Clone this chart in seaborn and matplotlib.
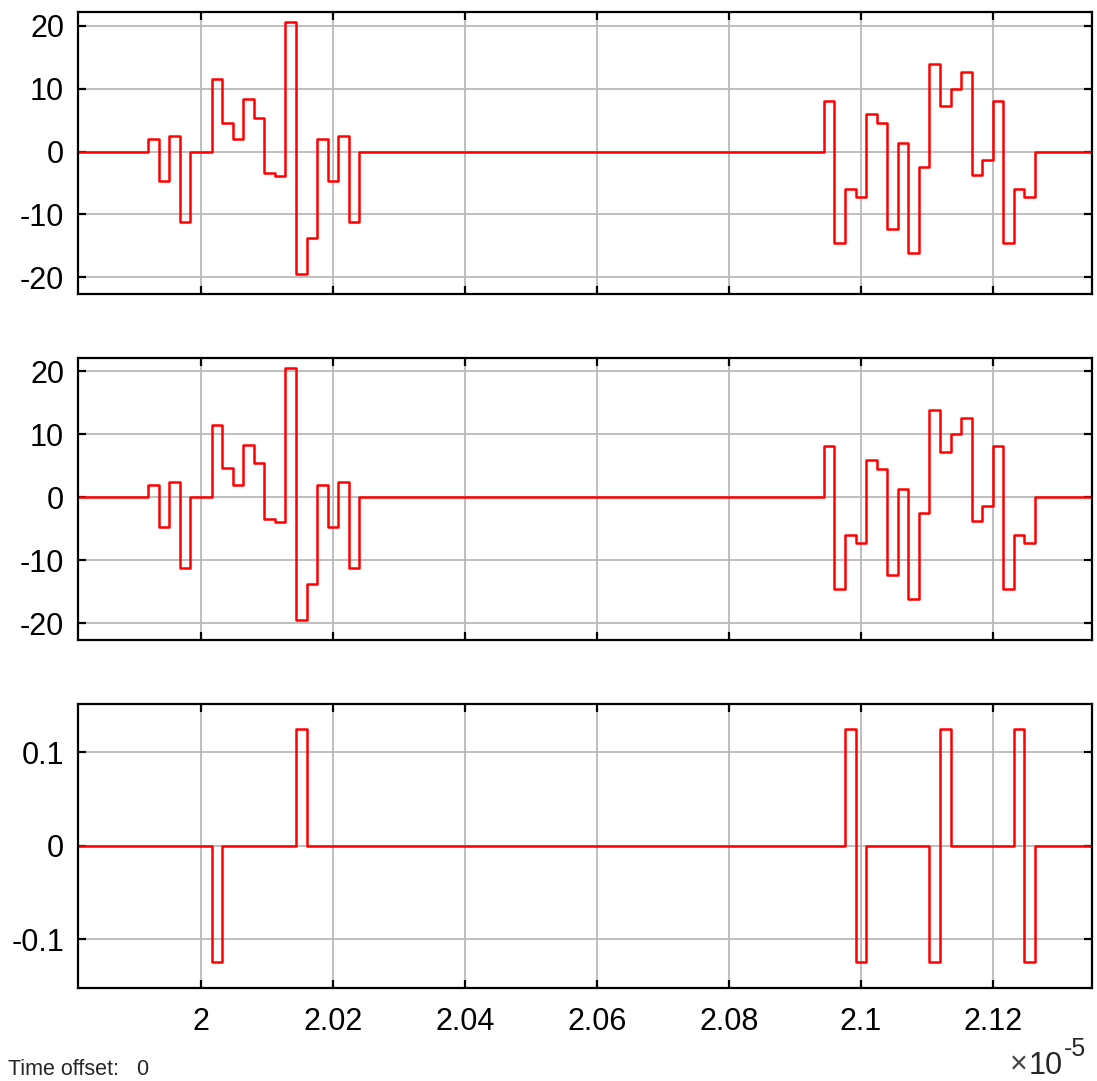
import numpy as np
import pandas as pd
import matplotlib
matplotlib.use("Agg")
import matplotlib.pyplot as plt
import seaborn as sns

sns.set_style("ticks")
plt.rcParams["font.family"] = ["Liberation Sans", "DejaVu Sans"]

# Sampled signal: 16 ns sample period, time in units of 1e-5 s
sample_time = 0.0016
first_sample = 1.992          # time of sample index 0
index_range = (-8, 92)        # samples covering the displayed window

# Two bursts of 20 samples (same data on both upper scopes)
burst_a_start = 0
burst_a = [2.0, -4.75, 2.5, -11.2, 0.0, 0.0, 11.5, 4.6, 2.0, 8.3,
           5.4, -3.4, -3.85, 20.6, -19.4, -13.8, 2.0, -4.75, 2.5, -11.2]
burst_b_start = 64
burst_b = [8.1, -14.5, -6.0, -7.2, 6.0, 4.5, -12.3, 1.3, -16.1, -2.5,
           13.9, 7.2, 10.0, 12.6, -3.8, -1.3, 8.1, -14.5, -6.0, -7.2]

# Error-pulse channel
pulse_index = [6, 14, 66, 67, 74, 75, 82, 83]
pulse_value = [-0.125, 0.125, 0.125, -0.125, -0.125, 0.125, 0.125, -0.125]

x_limits = (1.98136, 2.1350)
x_ticks = [2.0, 2.02, 2.04, 2.06, 2.08, 2.10, 2.12]
x_tick_labels = ["2", "2.02", "2.04", "2.06", "2.08", "2.1", "2.12"]
y_ticks_top = [20, 10, 0, -10, -20]
y_tick_labels_top = ["20", "10", "0", "-10", "-20"]
y_ticks_bottom = [0.1, 0, -0.1]
y_tick_labels_bottom = ["0.1", "0", "-0.1"]

# Build sampled series
idx = np.arange(index_range[0], index_range[1] + 1)
time = first_sample + sample_time * idx
sig = np.zeros(len(idx))
for start, vals in ((burst_a_start, burst_a), (burst_b_start, burst_b)):
    for j, v in enumerate(vals):
        sig[start + j - index_range[0]] = v
err = np.zeros(len(idx))
for i, v in zip(pulse_index, pulse_value):
    err[i - index_range[0]] = v

df = pd.DataFrame({"time": time, "sig1": sig, "sig2": sig.copy(), "err": err})

fig = plt.figure(figsize=(10.97, 10.81), dpi=100)
left, width = 0.0711, 0.9241
boxes = [(0.72803, 0.26087), (0.40796, 0.26114), (0.08631, 0.26272)]
axes = [fig.add_axes([left, b, width, h]) for b, h in boxes]

cols = ["sig1", "sig2", "err"]
for k, (ax, col) in enumerate(zip(axes, cols)):
    sns.lineplot(data=df, x="time", y=col, ax=ax, color="#ff0000",
                 linewidth=1.8, drawstyle="steps-post", estimator=None,
                 sort=False)
    ax.set_xlim(*x_limits)
    ax.set_xticks(x_ticks)
    if k < 2:
        ax.set_ylim(-22.65, 22.18)
        ax.set_yticks(y_ticks_top)
        ax.set_yticklabels(y_tick_labels_top)
        ax.set_xticklabels([])
    else:
        ax.set_ylim(-0.152, 0.152)
        ax.set_yticks(y_ticks_bottom)
        ax.set_yticklabels(y_tick_labels_bottom)
        ax.set_xticklabels(x_tick_labels)
    ax.set_xlabel("")
    ax.set_ylabel("")
    ax.grid(True, color="#b9b9b9", linewidth=1.3)
    ax.set_axisbelow(True)
    ax.tick_params(direction="in", length=6, width=1.6, top=True, right=True,
                   labelsize=22, colors="black", pad=10)
    ax.tick_params(axis="x", pad=14)
    for s in ax.spines.values():
        s.set_visible(True)
        s.set_linewidth(1.6)
        s.set_color("black")

fig.text(8 / 1097, 1 - 1075 / 1081, "Time offset:   0", fontsize=15.5,
         ha="left", va="baseline")

# Exponent marker for the shared time axis
W, H = 1097, 1081
fig.text(1028 / W, 1 - 1073 / H, "\u00d7", fontsize=22, color="#444444",
         ha="right", va="baseline")
fig.text(1029 / W, 1 - 1074 / H, "10", fontsize=22, ha="left", va="baseline")
fig.text(1064 / W, 1 - 1056 / H, "-5", fontsize=18, ha="left", va="baseline")

fig.savefig("out.png", dpi=100, facecolor="white")
